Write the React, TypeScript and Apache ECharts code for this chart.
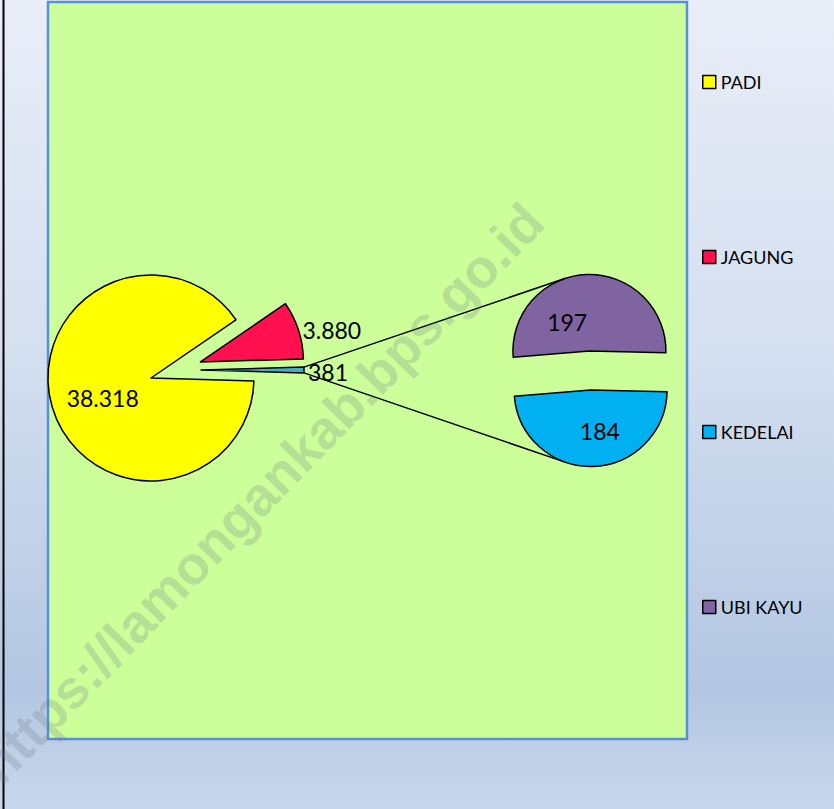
import React, { useEffect, useRef } from 'react';
import * as echarts from 'echarts';

// ---- data ----
const mainCategories = ['PADI', 'JAGUNG'];
const mainValues = [38318, 3880];
const secondaryCategories = ['UBI KAYU', 'KEDELAI'];
const secondaryValues = [197, 184];
const legendNames = ['PADI', 'JAGUNG', 'KEDELAI', 'UBI KAYU'];
const sliceColors: Record<string, string> = {
  PADI: '#ffff00',
  JAGUNG: '#ff1150',
  KEDELAI: '#00b0f0',
  'UBI KAYU': '#8064a2',
};
const otherColor = '#4bacc6';
const watermarkText = 'https://lamongankab.bps.go.id';

// ---- layout ----
const W = 834;
const H = 809;
const MAIN_C = [151, 378];
const MAIN_R = 103;
const MAIN_EXPLODE = 52;
const OTHER_C = [151, 370];
const OTHER_EXPLODE = 50;
const SEC_C = [590, 370.5];
const SEC_R = 76.5;
const SEC_EXPLODE = 19.5;
const SEC_TILT = 1.7;
const FONT = 'Lato, "Open Sans", sans-serif';

const fmt = (v: number) => String(v).replace(/\B(?=(\d{3})+(?!\d))/g, '.');
const rad = (d: number) => (d * Math.PI) / 180;

function tangent(P: number[], C: number[], r: number, upper: boolean) {
  const dx = P[0] - C[0];
  const dy = P[1] - C[1];
  const d = Math.hypot(dx, dy);
  const th = Math.atan2(dy, dx);
  const al = Math.acos(r / d);
  const pts = [th + al, th - al].map((t) => [C[0] + r * Math.cos(t), C[1] + r * Math.sin(t)]);
  pts.sort((a, b) => a[1] - b[1]);
  return upper ? pts[0] : pts[1];
}

export default function App() {
  const ref = useRef<HTMLDivElement>(null);
  useEffect(() => {
    document.body.style.margin = '0';
    if (!ref.current) return;
    const chart = echarts.init(ref.current, undefined, { renderer: 'svg' });

    const otherValue = secondaryValues.reduce((a, b) => a + b, 0);
    const mainSum = mainValues.reduce((a, b) => a + b, 0);
    const total = mainSum + otherValue;
    const otherAngle = (otherValue / total) * 360;
    const mainStart = otherAngle / 2;

    const secTotal = otherValue;
    const secAngles = secondaryValues.map((v) => (v / secTotal) * 360);
    const secStart = 90 + SEC_TILT + secAngles[0] / 2;

    // geometry for connector lines
    const otherBis = mainStart - otherAngle / 2;
    const oc = [OTHER_C[0] + OTHER_EXPLODE * Math.cos(rad(otherBis)), OTHER_C[1] - OTHER_EXPLODE * Math.sin(rad(otherBis))];
    const topCorner = [oc[0] + MAIN_R * Math.cos(rad(mainStart)), oc[1] - MAIN_R * Math.sin(rad(mainStart))];
    const botCorner = [
      oc[0] + MAIN_R * Math.cos(rad(mainStart - otherAngle)),
      oc[1] - MAIN_R * Math.sin(rad(mainStart - otherAngle)),
    ];
    const bisTop = secStart - secAngles[0] / 2;
    const bisBot = secStart - secAngles[0] - secAngles[1] / 2;
    const topC = [SEC_C[0] + SEC_EXPLODE * Math.cos(rad(bisTop)), SEC_C[1] - SEC_EXPLODE * Math.sin(rad(bisTop))];
    const botC = [SEC_C[0] + SEC_EXPLODE * Math.cos(rad(bisBot)), SEC_C[1] - SEC_EXPLODE * Math.sin(rad(bisBot))];
    const tTop = tangent(topCorner, topC, SEC_R, true);
    const tBot = tangent(botCorner, botC, SEC_R, false);

    const border = { borderColor: '#000', borderWidth: 1.5 };
    const labelBase = { color: '#000', fontSize: 23, fontFamily: FONT, formatter: (p: any) => fmt(p.value) };
    const outsideLine = { show: false, length: 0, length2: 0 };
    const clear = { color: 'rgba(0,0,0,0)', borderWidth: 0 };

    const option: any = {
      animation: false,
      backgroundColor: {
        type: 'linear', x: 0, y: 0, x2: 0, y2: 1,
        colorStops: [
          { offset: 0, color: '#e9eef8' },
          { offset: 0.45, color: '#d3deef' },
          { offset: 0.85, color: '#b3c7e2' },
          { offset: 1, color: '#c8d7eb' },
        ],
      },
      legend: {
        orient: 'vertical',
        left: 697,
        top: 67,
        itemWidth: 13,
        itemHeight: 13,
        itemGap: 155,
        icon: 'rect',
        data: legendNames,
        selectedMode: false,
        textStyle: { fontSize: 18, fontFamily: FONT, color: '#000', lineHeight: 20 },
        itemStyle: { borderColor: '#000', borderWidth: 1.5 },
      },
      graphic: [
        { type: 'rect', z: 0, shape: { x: 2.5, y: 0, width: 2, height: H }, style: { fill: '#000' } },
        {
          type: 'rect', z: 0,
          shape: { x: 48, y: 2, width: 639, height: 737 },
          style: { fill: '#ccff99', stroke: '#5b8ed8', lineWidth: 2.5 },
        },
        {
          type: 'line', z: 5,
          shape: { x1: topCorner[0], y1: topCorner[1], x2: tTop[0], y2: tTop[1] },
          style: { stroke: '#000', lineWidth: 1.5 },
        },
        {
          type: 'line', z: 5,
          shape: { x1: botCorner[0], y1: botCorner[1], x2: tBot[0], y2: tBot[1] },
          style: { stroke: '#000', lineWidth: 1.5 },
        },
        {
          type: 'text', z: 20, silent: true,
          x: 261, y: 493, rotation: 0.8,
          style: {
            text: watermarkText,
            fill: 'rgba(110,120,135,0.24)',
            font: 'bold 54px "Liberation Sans", Arial, sans-serif',
            align: 'center',
            verticalAlign: 'middle',
          },
        },
      ],
      series: [
        {
          type: 'pie', z: 3,
          center: MAIN_C, radius: MAIN_R,
          startAngle: mainStart, clockwise: true,
          avoidLabelOverlap: false,
          selectedMode: 'multiple', selectedOffset: MAIN_EXPLODE,
          emphasis: { disabled: true },
          select: { itemStyle: border },
          itemStyle: border,
          label: { ...labelBase },
          labelLine: outsideLine,
          labelLayout: (p: any) => (p.dataIndex === 1 ? { dx: 4, dy: 5 } : {}),
          data: [
            { name: '__other', value: otherValue, itemStyle: clear, label: { show: false } },
            { name: mainCategories[0], value: mainValues[0], itemStyle: { color: sliceColors[mainCategories[0]] }, label: { position: 'inside' } },
            { name: mainCategories[1], value: mainValues[1], selected: true, itemStyle: { color: sliceColors[mainCategories[1]] }, label: { position: 'outside', distanceToLabelLine: 4 } },
          ],
        },
        {
          type: 'pie', z: 3,
          center: OTHER_C, radius: MAIN_R,
          startAngle: mainStart, clockwise: true,
          avoidLabelOverlap: false,
          selectedMode: 'multiple', selectedOffset: OTHER_EXPLODE,
          emphasis: { disabled: true },
          select: { itemStyle: border },
          itemStyle: border,
          label: { ...labelBase, position: 'outside', distanceToLabelLine: 4 },
          labelLine: outsideLine,
          labelLayout: () => ({ dy: 2 }),
          data: [
            { name: 'Lainnya', value: otherValue, selected: true, itemStyle: { color: otherColor } },
            { name: '__rest', value: mainSum, itemStyle: clear, label: { show: false } },
          ],
        },
        {
          type: 'pie', z: 3,
          center: SEC_C, radius: SEC_R,
          startAngle: secStart, clockwise: true,
          avoidLabelOverlap: false,
          selectedMode: 'multiple', selectedOffset: SEC_EXPLODE,
          emphasis: { disabled: true },
          select: { itemStyle: border },
          itemStyle: border,
          label: { ...labelBase, position: 'inside' },
          labelLine: { show: false },
          labelLayout: (p: any) => (p.dataIndex === 0 ? { dx: -21, dy: 12 } : { dx: 8, dy: 0 }),
          data: secondaryCategories.map((n, i) => ({
            name: n, value: secondaryValues[i], selected: true, itemStyle: { color: sliceColors[n] },
          })),
        },
      ],
    };
    chart.setOption(option);
    return () => chart.dispose();
  }, []);
  return <div ref={ref} style={{ width: W, height: H }} />;
}
